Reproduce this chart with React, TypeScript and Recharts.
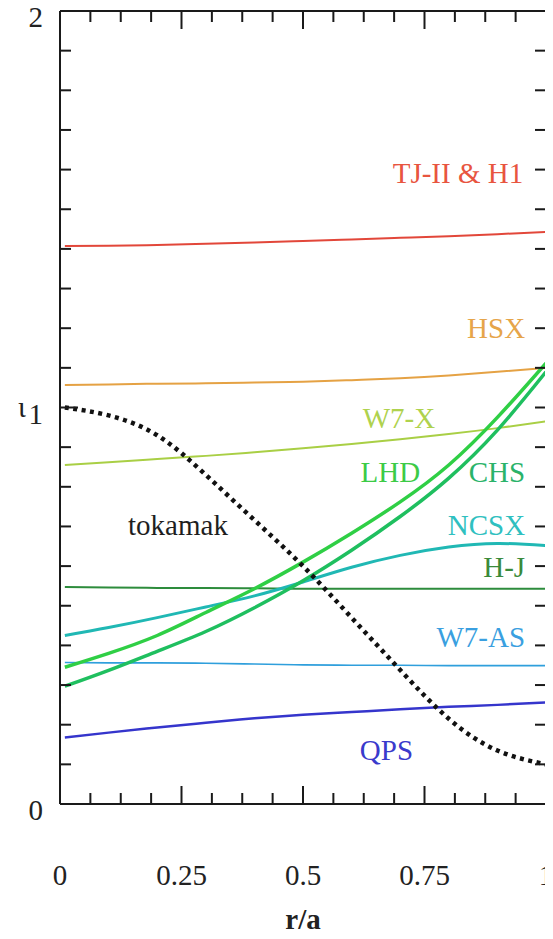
import React from "react";
import { LineChart, Line, XAxis, YAxis, ReferenceLine, ReferenceDot } from "recharts";

const rValues = [0.01, 0.1, 0.2, 0.3, 0.4, 0.5, 0.6, 0.7, 0.8, 0.9, 1.0];

// rotational transform profiles
const tjii = [1.407, 1.408, 1.41, 1.413, 1.416, 1.42, 1.424, 1.428, 1.432, 1.437, 1.443];
const hsx = [1.057, 1.058, 1.06, 1.061, 1.063, 1.065, 1.069, 1.074, 1.081, 1.09, 1.1];
const w7x = [0.855, 0.862, 0.87, 0.878, 0.887, 0.897, 0.908, 0.92, 0.933, 0.948, 0.965];
const lhd = [0.345, 0.38, 0.425, 0.483, 0.543, 0.61, 0.683, 0.762, 0.855, 0.975, 1.112];
const chs = [0.297, 0.337, 0.385, 0.435, 0.495, 0.563, 0.64, 0.725, 0.822, 0.943, 1.09];
const ncsx = [0.425, 0.445, 0.47, 0.497, 0.525, 0.56, 0.597, 0.627, 0.648, 0.657, 0.652];
const hj = [0.547, 0.546, 0.545, 0.545, 0.544, 0.543, 0.543, 0.543, 0.543, 0.543, 0.543];
const w7as = [0.357, 0.356, 0.356, 0.355, 0.353, 0.351, 0.35, 0.35, 0.349, 0.349, 0.349];
const qps = [0.168, 0.18, 0.193, 0.205, 0.216, 0.225, 0.232, 0.239, 0.245, 0.25, 0.256];
const tokamak = [1.0, 0.98, 0.93, 0.83, 0.716, 0.6, 0.47, 0.338, 0.215, 0.135, 0.1];

// axis ticks
const xTicks = [0, 0.0625, 0.125, 0.1875, 0.25, 0.3125, 0.375, 0.4375, 0.5, 0.5625, 0.625, 0.6875, 0.75, 0.8125, 0.875, 0.9375, 1];
const xTickLabels = ["0", "0.25", "0.5", "0.75", "1"];
const yTicks = [0, 0.1, 0.2, 0.3, 0.4, 0.5, 0.6, 0.7, 0.8, 0.9, 1, 1.1, 1.2, 1.3, 1.4, 1.5, 1.6, 1.7, 1.8, 1.9, 2];
const yTickLabels = ["0", "1", "2"];

const chartData = rValues.map((r, i) => ({
    r,
    tjii: tjii[i],
    hsx: hsx[i],
    w7x: w7x[i],
    lhd: lhd[i],
    chs: chs[i],
    ncsx: ncsx[i],
    hj: hj[i],
    w7as: w7as[i],
    qps: qps[i],
    tokamak: tokamak[i],
}));

const FONT = "'Liberation Serif', 'Times New Roman', serif";
const W = 545;
const H = 939;
const margin = { top: 11, right: 7, left: 0, bottom: 0 };
const Y_AXIS_W = 52;
const X_AXIS_H = 135;
const PW = W - margin.left - margin.right - Y_AXIS_W;
const PH = H - margin.top - margin.bottom - X_AXIS_H;
const AXIS = "#1a1a1a";

const near = (a: number, b: number) => Math.abs(a - b) < 1e-6;

const YTick = (props: any) => {
    const { x, y, payload } = props;
    const v = payload.value;
    const long = near(v, 1);
    const len = long ? 18 : 11;
    const label = [0, 1, 2].findIndex((t) => near(t, v));
    return (
        <g>
            <line x1={x} y1={y} x2={x + len} y2={y} stroke={AXIS} strokeWidth={2} />
            <line x1={x + PW - 11} y1={y} x2={x + PW} y2={y} stroke={AXIS} strokeWidth={2} />
            {label >= 0 && (
                <text x={x - 17} y={y + 16} textAnchor="end" fontFamily={FONT} fontSize={29} fill="#222">
                    {yTickLabels[label]}
                </text>
            )}
            {long && (
                <text x={x - 38} y={y + 9} textAnchor="middle" fontFamily={FONT} fontSize={29} fill="#222">
                    ι
                </text>
            )}
        </g>
    );
};

const XTick = (props: any) => {
    const { x, y, payload } = props;
    const v = payload.value;
    const label = [0, 0.25, 0.5, 0.75, 1].findIndex((t) => near(t, v));
    const len = label >= 0 ? 18 : 11;
    return (
        <g>
            <line x1={x} y1={y} x2={x} y2={y - len} stroke={AXIS} strokeWidth={2} />
            <line x1={x} y1={y - PH} x2={x} y2={y - PH + len} stroke={AXIS} strokeWidth={2} />
            {label >= 0 && (
                <text x={x} y={y + 81} textAnchor="middle" fontFamily={FONT} fontSize={29} fill="#222">
                    {xTickLabels[label]}
                </text>
            )}
        </g>
    );
};

const seriesLabels = [
    { text: "TJ-II & H1", color: "#e8553f", x: 0.953, y: 1.566, anchor: "end" },
    { text: "HSX", color: "#e6a54a", x: 0.957, y: 1.175, anchor: "end" },
    { text: "W7-X", color: "#afd24e", x: 0.772, y: 0.948, anchor: "end" },
    { text: "LHD", color: "#3ccb46", x: 0.741, y: 0.812, anchor: "end" },
    { text: "CHS", color: "#2ab36a", x: 0.957, y: 0.812, anchor: "end" },
    { text: "NCSX", color: "#2fc0c0", x: 0.957, y: 0.678, anchor: "end" },
    { text: "H-J", color: "#3a8a3a", x: 0.957, y: 0.573, anchor: "end" },
    { text: "W7-AS", color: "#3a9fe0", x: 0.957, y: 0.396, anchor: "end" },
    { text: "QPS", color: "#3a3acc", x: 0.617, y: 0.111, anchor: "start" },
    { text: "tokamak", color: "#1e1e1e", x: 0.14, y: 0.678, anchor: "start" },
];

export default function App() {
    return (
        <div style={{ width: W, height: H, background: "#fff", position: "relative", top: -8 }}>
            <LineChart width={W} height={H} data={chartData} margin={margin}>
                <XAxis
                    dataKey="r"
                    type="number"
                    domain={[0, 1]}
                    ticks={xTicks}
                    interval={0}
                    height={X_AXIS_H}
                    tickSize={0}
                    tickMargin={0}
                    tick={<XTick />}
                    axisLine={{ stroke: AXIS, strokeWidth: 2 }}
                    tickLine={false}
                    label={{
                        value: "r/a",
                        position: "insideBottom",
                        offset: 10,
                        style: { fontFamily: FONT, fontSize: 29, fontWeight: 700, fill: "#222" },
                    }}
                />
                <YAxis
                    type="number"
                    domain={[0, 2]}
                    ticks={yTicks}
                    interval={0}
                    width={Y_AXIS_W}
                    tickSize={0}
                    tickMargin={0}
                    tick={<YTick />}
                    axisLine={{ stroke: AXIS, strokeWidth: 2 }}
                    tickLine={false}
                />
                <ReferenceLine y={2} stroke={AXIS} strokeWidth={2} />
                <ReferenceLine x={1} stroke={AXIS} strokeWidth={2} />

                <Line dataKey="tjii" type="natural" stroke="#e2473a" strokeWidth={2} dot={false} isAnimationActive={false} />
                <Line dataKey="hsx" type="natural" stroke="#e5a244" strokeWidth={2} dot={false} isAnimationActive={false} />
                <Line dataKey="w7x" type="natural" stroke="#a9cf45" strokeWidth={2} dot={false} isAnimationActive={false} />
                <Line dataKey="hj" type="natural" stroke="#2d8c3c" strokeWidth={2} dot={false} isAnimationActive={false} />
                <Line dataKey="w7as" type="natural" stroke="#2f9fdc" strokeWidth={1.6} dot={false} isAnimationActive={false} />
                <Line dataKey="qps" type="natural" stroke="#3535cc" strokeWidth={2.5} dot={false} isAnimationActive={false} />
                <Line dataKey="ncsx" type="natural" stroke="#20b8b4" strokeWidth={3} dot={false} isAnimationActive={false} />
                <Line dataKey="chs" type="natural" stroke="#1fbf5f" strokeWidth={3.5} dot={false} isAnimationActive={false} />
                <Line dataKey="lhd" type="natural" stroke="#2fcf45" strokeWidth={3.5} dot={false} isAnimationActive={false} />
                <Line
                    dataKey="tokamak"
                    type="natural"
                    stroke="#111"
                    strokeWidth={4.5}
                    strokeDasharray="4 4.5"
                    dot={false}
                    isAnimationActive={false}
                />

                {seriesLabels.map((l) => (
                    <ReferenceDot
                        key={l.text}
                        x={l.x}
                        y={l.y}
                        r={0}
                        fill="none"
                        stroke="none"
                        label={(p: any) => (
                            <text
                                x={p.viewBox.x}
                                y={p.viewBox.y}
                                textAnchor={l.anchor}
                                fontFamily={FONT}
                                fontSize={29}
                                fill={l.color}
                            >
                                {l.text}
                            </text>
                        )}
                    />
                ))}
            </LineChart>
        </div>
    );
}
